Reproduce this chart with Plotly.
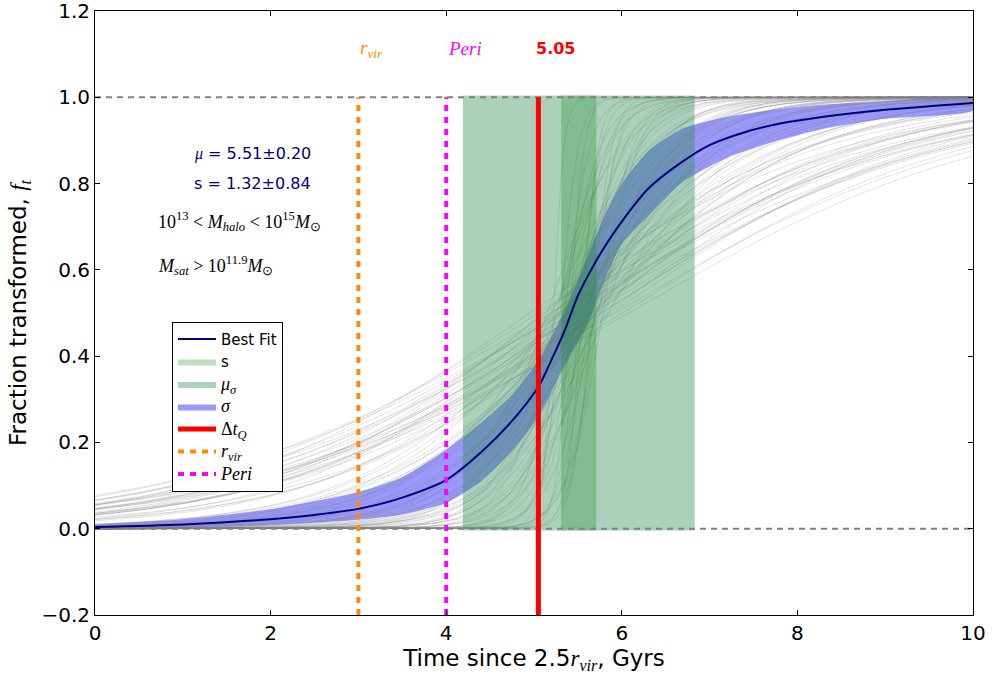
import numpy as np
import plotly.graph_objects as go

# ---- best-fit curve of the transformed fraction (time in Gyr) ----
fit_t = [0, 1, 2, 2.5, 3, 3.5, 4, 4.4, 4.75, 5.05, 5.2, 5.35, 5.5, 5.65, 5.8,
         6.0, 6.3, 6.65, 7.0, 7.4, 7.8, 8.3, 9.0, 10]
fit_f = [0.004, 0.010, 0.022, 0.032, 0.046, 0.072, 0.113, 0.178, 0.250, 0.329,
         0.392, 0.460, 0.540, 0.600, 0.652, 0.712, 0.788, 0.845, 0.889, 0.919,
         0.939, 0.955, 0.971, 0.987]

# ---- sigma envelope around the best fit ----
band_t = [0, 1, 2, 3, 3.5, 4, 4.4, 4.75, 5.05, 5.35, 5.6, 5.8, 6.0, 6.3, 6.7,
          7.2, 7.7, 8.3, 9.0, 10]
band_lo = [0.000, 0.003, 0.009, 0.021, 0.033, 0.060, 0.110, 0.180, 0.260, 0.380,
           0.470, 0.575, 0.660, 0.725, 0.805, 0.860, 0.895, 0.927, 0.950, 0.970]
band_hi = [0.010, 0.022, 0.045, 0.085, 0.120, 0.183, 0.245, 0.310, 0.390, 0.505,
           0.625, 0.725, 0.800, 0.875, 0.928, 0.955, 0.970, 0.983, 0.991, 0.998]

# ---- fit parameters and event times ----
mu_fit, mu_err = 5.51, 0.20
s_fit, s_err = 1.32, 0.84
dt_q = 5.05
t_rvir = 3.0
t_peri = 4.0

# ---- posterior draws (mu, s) of the logistic model ----
draw_mu = [
    5.22, 5.30, 5.35, 5.41, 5.47, 5.52, 5.58, 5.63, 5.70, 5.78,
    5.26, 5.38, 5.45, 5.55, 5.61, 5.68, 5.74, 5.33, 5.50, 5.66,
    5.15, 5.20, 5.25, 5.28, 5.32, 5.36, 5.40, 5.43, 5.46, 5.49,
    5.52, 5.55, 5.58, 5.60, 5.63, 5.66, 5.69, 5.72, 5.75, 5.80,
    5.85, 5.18, 5.34, 5.44, 5.53, 5.62, 5.71, 5.38, 5.48, 5.57,
    5.25, 5.31, 5.37, 5.42, 5.47, 5.51, 5.56, 5.61, 5.65, 5.70,
    5.76, 5.83, 5.29, 5.39, 5.50, 5.59, 5.68, 5.44, 5.54, 5.64,
    4.95, 5.05, 5.12, 5.18, 5.22, 5.27, 5.31, 5.35, 5.39, 5.43,
    5.47, 5.50, 5.54, 5.58, 5.62, 5.66, 5.71, 5.77, 5.84, 5.92,
    6.00, 6.08, 5.10, 5.20, 5.30, 5.40, 5.52, 5.64, 5.75, 5.88,
]
draw_s = [
    0.06, 0.10, 0.14, 0.08, 0.18, 0.12, 0.22, 0.16, 0.25, 0.20,
    0.28, 0.24, 0.30, 0.09, 0.27, 0.13, 0.19, 0.21, 0.26, 0.11,
    0.42, 0.55, 0.35, 0.62, 0.48, 0.70, 0.38, 0.58, 0.45, 0.66,
    0.33, 0.52, 0.74, 0.40, 0.60, 0.47, 0.68, 0.36, 0.56, 0.44,
    0.64, 0.72, 0.50, 0.39, 0.61, 0.53, 0.43, 0.67, 0.57, 0.49,
    0.82, 1.05, 0.90, 1.18, 0.78, 0.98, 1.12, 0.86, 1.22, 0.94,
    1.08, 0.80, 1.15, 0.88, 1.02, 0.76, 1.20, 0.96, 0.84, 1.10,
    1.75, 1.90, 1.55, 2.05, 1.40, 1.85, 1.65, 2.15, 1.35, 1.95,
    1.60, 1.80, 2.10, 1.45, 1.70, 2.00, 1.50, 1.88, 1.62, 2.08,
    1.95, 2.12, 1.48, 1.72, 1.98, 1.58, 1.82, 1.68, 1.92, 1.78,
]

SANS = "DejaVu Sans"
SERIF = "Liberation Serif"


def math(txt, size=None):
    style = f"font-family:{SERIF}"
    if size:
        style += f";font-size:{size}px"
    return f"<span style='{style}'>{txt}</span>"


fig = go.Figure()

# sigma envelope
fig.add_trace(go.Scatter(x=band_t + band_t[::-1], y=band_hi + band_lo[::-1],
                         mode="lines", fill="toself", fillcolor="rgba(0,0,255,0.40)",
                         line=dict(width=0, shape="spline", smoothing=0.6),
                         name=math("<i>σ</i>", 18), legendrank=4, hoverinfo="skip"))

# posterior draws of the logistic model
t_grid = np.linspace(0, 10, 301)
for m, s in zip(draw_mu, draw_s):
    f = 1.0 / (1.0 + np.exp(-(t_grid - m) / s))
    fig.add_trace(go.Scatter(x=t_grid, y=f, mode="lines",
                             line=dict(color="rgba(128,128,128,0.22)", width=1),
                             showlegend=False, hoverinfo="skip"))

span_y0, span_y1 = -0.004, 1.004

# wide shaded span: mu +/- s
lo, hi = mu_fit - s_fit, mu_fit + s_fit
fig.add_trace(go.Scatter(x=[lo, hi, hi, lo, lo], y=[span_y0, span_y0, span_y1, span_y1, span_y0],
                         mode="lines", fill="toself", fillcolor="rgba(46,139,87,0.40)",
                         line=dict(width=0), name=math("<i>μ</i><sub><i>σ</i></sub>", 18),
                         legendrank=3, hoverinfo="skip"))
# narrow shaded span: mu +/- mu_err
lo, hi = mu_fit - mu_err, mu_fit + mu_err
fig.add_trace(go.Scatter(x=[lo, hi, hi, lo, lo], y=[span_y0, span_y0, span_y1, span_y1, span_y0],
                         mode="lines", fill="toself", fillcolor="rgba(0,128,0,0.25)",
                         line=dict(width=0), name="s", legendrank=2, hoverinfo="skip"))

# reference levels at 0 and 1
for lvl in (0.0, 1.0):
    fig.add_trace(go.Scatter(x=[0, 10], y=[lvl, lvl], mode="lines",
                             line=dict(color="grey", width=2, dash="6px,5px"),
                             showlegend=False, hoverinfo="skip"))

# best fit
fig.add_trace(go.Scatter(x=fit_t, y=fit_f, mode="lines",
                         line=dict(color="navy", width=2, shape="spline", smoothing=0.8),
                         name="Best Fit", legendrank=1))

# event markers
fig.add_trace(go.Scatter(x=[dt_q, dt_q], y=[-0.2, 1.0], mode="lines",
                         line=dict(color="red", width=5),
                         name=math("Δ<i>t</i><sub><i>Q</i></sub>", 18), legendrank=5))
fig.add_trace(go.Scatter(x=[t_rvir, t_rvir], y=[-0.2, 1.0], mode="lines",
                         line=dict(color="darkorange", width=4, dash="6px,6px"),
                         name=math("<i>r</i><sub><i>vir</i></sub>", 18), legendrank=6))
fig.add_trace(go.Scatter(x=[t_peri, t_peri], y=[-0.2, 1.0], mode="lines",
                         line=dict(color="magenta", width=4, dash="6px,6px"),
                         name=math("<i>Peri</i>", 18), legendrank=7))

annotations = [
    dict(x=t_rvir, y=1.113, text=math("<i>r</i><sub><i>vir</i></sub>"),
         font=dict(color="darkorange", size=19)),
    dict(x=t_peri, y=1.113, text=math("<i>Peri</i>"),
         font=dict(color="magenta", size=19)),
    dict(x=dt_q, y=1.113, text=f"<b>{dt_q:.2f}</b>", xshift=-4,
         font=dict(color="red", size=16, family=SANS)),
    dict(x=1.11, y=0.870, text=math("<i>μ</i>") + f" = {mu_fit:.2f}±{mu_err:.2f}",
         font=dict(color="navy", size=16, family=SANS)),
    dict(x=1.11, y=0.801, text=f"s = {s_fit:.2f}±{s_err:.2f}",
         font=dict(color="navy", size=16, family=SANS)),
    dict(x=0.70, y=0.711,
         text=math("10<sup>13</sup> &lt; <i>M</i><sub><i>halo</i></sub> &lt; 10<sup>15</sup><i>M</i><sub>⊙</sub>"),
         font=dict(color="black", size=18)),
    dict(x=0.70, y=0.609,
         text=math("<i>M</i><sub><i>sat</i></sub> &gt; 10<sup>11.9</sup><i>M</i><sub>⊙</sub>"),
         font=dict(color="black", size=18)),
]
for a in annotations:
    a.update(xref="x", yref="y", xanchor="left", yanchor="middle", showarrow=False)

axis_common = dict(showline=True, linecolor="black", linewidth=1, mirror="ticks",
                   ticks="inside", ticklen=5, tickwidth=1, tickcolor="black",
                   showgrid=False, zeroline=False, automargin=False,
                   ticklabeloverflow="allow",
                   tickfont=dict(family=SANS, size=20, color="black"))

fig.update_layout(
    width=992, height=677,
    margin=dict(l=95, r=19, t=11, b=62),
    paper_bgcolor="white", plot_bgcolor="white",
    font=dict(family=SANS, color="black"),
    xaxis=dict(range=[0, 10], tickmode="array", tickvals=[0, 2, 4, 6, 8, 10],
               title=dict(text="Time since 2.5" + math("<i>r</i><sub><i>vir</i></sub>") + ", Gyrs",
                          font=dict(family=SANS, size=23), standoff=4),
               **axis_common),
    yaxis=dict(range=[-0.2, 1.2], tickmode="array",
               tickvals=[-0.2, 0.0, 0.2, 0.4, 0.6, 0.8, 1.0, 1.2], tickformat=".1f",
               title=dict(text="Fraction transformed, " + math("<i>f</i><sub><i>t</i></sub>"),
                          font=dict(family=SANS, size=23), standoff=8),
               **axis_common),
    legend=dict(x=0.0877, y=0.4855, xanchor="left", yanchor="top",
                bgcolor="white", bordercolor="black", borderwidth=1,
                font=dict(family=SANS, size=15, color="black"),
                traceorder="normal", itemwidth=38),
    annotations=annotations,
    showlegend=True,
)

fig.write_html("out.html")
